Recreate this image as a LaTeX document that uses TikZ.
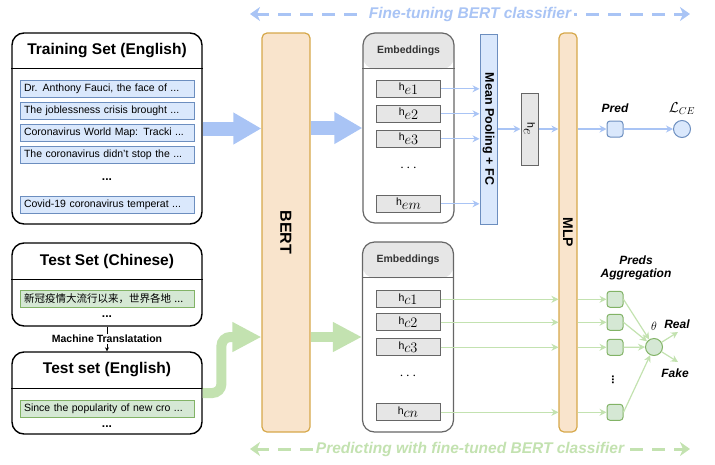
\documentclass[tikz,border=0pt]{standalone}
\usepackage{fontspec}
\setmainfont{Liberation Sans}
\newfontfamily\cjk{Noto Sans CJK SC}
\usepackage{graphicx}
\usetikzlibrary{arrows.meta,positioning,calc}
\definecolor{bluefill}{HTML}{DAE8FC}
\definecolor{blueline}{HTML}{6C8EBF}
\definecolor{greenfill}{HTML}{D5E8D4}
\definecolor{greenline}{HTML}{82B366}
\definecolor{grayfill}{HTML}{E6E6E6}
\definecolor{grayline}{HTML}{666666}
\definecolor{orangefill}{HTML}{F9E4CC}
\definecolor{orangeline}{HTML}{D6A84A}
\definecolor{bluearr}{HTML}{A9C4F5}
\definecolor{greenarr}{HTML}{C3E2B0}
\newcommand{\hvec}[1]{{\fontsize{10.5}{10}\selectfont$\mathrm{h}$}\raisebox{-3.5pt}{\fontsize{13.5}{12}\selectfont$#1$}}
\tikzset{
    % Define style for data set boxes
    setbox/.style={
           rectangle,
           rounded corners=12pt,
           draw=black, line width=1.4pt,
           fill=white,
           minimum width=190pt},
    settitle/.style={font=\fontsize{15.5}{18}\selectfont\bfseries,minimum height=36pt,inner sep=0pt},
    trainitem/.style={rectangle,draw=blueline,fill=bluefill,line width=1pt,text width=166pt,align=left,
           minimum height=17pt,inner xsep=4pt,inner ysep=0pt,font=\fontsize{10.5}{12}\selectfont},
    testitem/.style={trainitem,draw=greenline,fill=greenfill},
    dots/.style={inner sep=0pt,font=\fontsize{12}{12}\selectfont\bfseries},
    % Define style for layers
    layer/.style={rectangle,rounded corners=5pt,draw=orangeline,fill=orangefill,line width=1.2pt,
           minimum height=399pt,inner sep=0pt,font=\bfseries},
    embbox/.style={rectangle,rounded corners=12pt,draw=grayline,fill=white,line width=1.2pt,
           minimum width=91pt,minimum height=190pt,
           path picture={\fill[grayfill] (path picture bounding box.north west) rectangle ([yshift=-36pt]path picture bounding box.north east);}},
    embtitle/.style={font=\fontsize{10.5}{12}\selectfont\bfseries,text=black!80,minimum height=36pt,inner sep=0pt},
    hbox/.style={rectangle,draw=grayline,fill=grayfill,line width=1pt,minimum width=64pt,minimum height=17pt,inner sep=0pt},
    poolbox/.style={rectangle,draw=blueline,fill=bluefill,line width=1pt,minimum width=17pt,minimum height=190pt,inner sep=0pt},
    predbox/.style={rectangle,rounded corners=3pt,draw=blueline,fill=bluefill,line width=1pt,minimum size=16pt,inner sep=0pt},
    aggbox/.style={predbox,draw=greenline,fill=greenfill},
    losscircle/.style={circle,draw=blueline,fill=bluefill,line width=1pt,minimum size=17pt,inner sep=0pt},
    aggcircle/.style={losscircle,draw=greenline,fill=greenfill},
    predlabel/.style={inner sep=0pt,font=\fontsize{12}{13.5}\selectfont\bfseries\itshape},
    % Define arrow styles
    thinblue/.style={color=bluearr,line width=1.2pt,-{Stealth[length=7pt,width=7pt]}},
    thingreen/.style={thinblue,color=greenarr},
    bigblue/.style={color=bluearr,line width=14pt,-{Triangle[length=28pt,width=30pt]}},
    biggreen/.style={color=greenarr,line width=10pt,-{Triangle[length=29pt,width=28pt]}},
    dashblue/.style={color=bluearr,line width=3pt,dash pattern=on 13pt off 9pt,
           {Stealth[length=10pt,width=14pt,inset=3pt]}-{Stealth[length=10pt,width=14pt,inset=3pt]}},
    dashgreen/.style={dashblue,color=greenarr},
    dashlabel/.style={fill=white,inner sep=3pt,font=\fontsize{15.5}{18}\selectfont\bfseries\itshape}
}

\begin{document}
\begin{tikzpicture}[x=1pt,y=-1pt,node distance=4pt]
  \useasboundingbox (0,0) rectangle (715,464);

  % training set
  \node[setbox,minimum height=191pt] (train) at (107,128.5) {};
  \node[settitle,below=0pt of train.north] (trainT) {Training Set (English)};
  \draw[line width=1.4pt] (trainT.south -| train.west) -- (trainT.south -| train.east);
  \node[trainitem,below=11pt of trainT] (t1) {Dr. Anthony Fauci, the face of ...};
  \node[trainitem,below=of t1] (t2) {The joblessness crisis brought ...};
  \node[trainitem,below=of t2] (t3) {Coronavirus World Map: Tracki ...};
  \node[trainitem,below=of t3] (t4) {The coronavirus didn’t stop the ...};
  \node[trainitem,below=32pt of t4] (t5) {Covid-19 coronavirus temperat ...};
  \node[dots] (tdots) at ($(t4)!0.5!(t5)$) {...};

  % test sets
  \node[setbox,minimum height=83pt] (testzh) at (107,284.5) {};
  \node[settitle,below=0pt of testzh.north,minimum height=37pt] (zhT) {Test Set (Chinese)};
  \draw[line width=1.4pt] (zhT.south -| testzh.west) -- (zhT.south -| testzh.east);
  \node[testitem,below=10pt of zhT] (zh1) {\cjk 新冠疫情大流行以来，世界各地 ...};
  \node[dots,below=8pt of zh1] (zhdots) {...};

  \node[setbox,minimum height=82pt] (testen) at (107,393) {};
  \node[settitle,below=0pt of testen.north,minimum height=37pt] (enT) {Test set (English)};
  \draw[line width=1.4pt] (enT.south -| testen.west) -- (enT.south -| testen.east);
  \node[testitem,below=11pt of enT] (en1) {Since the popularity of new cro ...};
  \node[dots,below=8pt of en1] (endots) {...};

  \draw[line width=0.8pt,-{Stealth[length=4pt,width=4pt]}] (testzh) -- node[fill=white,inner sep=1pt,font=\fontsize{10.5}{12}\selectfont\bfseries] {Machine Translatation} (testen);

  % BERT and MLP
  \node[layer,minimum width=48pt] (bert) at (286,232.5) {\rotatebox{-90}{\fontsize{16}{16}\selectfont BERT}};
  \node[layer,minimum width=18pt] (mlp) at (568,232.5) {\rotatebox{-90}{\fontsize{14}{14}\selectfont MLP}};

  % embeddings (training)
  \node[embbox] (emb1) at (408.5,128) {};
  \node[embtitle,below=0pt of emb1.north] (embT1) {Embeddings};
  \draw[grayline,line width=1.2pt] (embT1.south -| emb1.west) -- (embT1.south -| emb1.east);
  \node[hbox,below=11pt of embT1] (e1) {\hvec{e1}};
  \node[hbox,below=7pt of e1] (e2) {\hvec{e2}};
  \node[hbox,below=7pt of e2] (e3) {\hvec{e3}};
  \node[hbox,below=47pt of e3] (em) {\hvec{em}};
  \node[inner sep=0pt,font=\fontsize{14}{14}\selectfont] (edots) at ($(e3)!0.45!(em)$) {$\cdots$};

  % embeddings (test)
  \node[embbox] (emb2) at (408,337) {};
  \node[embtitle,below=0pt of emb2.north] (embT2) {Embeddings};
  \draw[grayline,line width=1.2pt] (embT2.south -| emb2.west) -- (embT2.south -| emb2.east);
  \node[hbox,below=12.5pt of embT2] (c1) {\hvec{c1}};
  \node[hbox,below=5pt of c1] (c2) {\hvec{c2}};
  \node[hbox,below=7pt of c2] (c3) {\hvec{c3}};
  \node[hbox,below=47pt of c3] (cn) {\hvec{cn}};
  \node[inner sep=0pt,font=\fontsize{14}{14}\selectfont] (cdots) at ($(c3)!0.45!(cn)$) {$\cdots$};

  % pooling and prediction
  \node[poolbox] (pool) at (488.5,129) {\rotatebox{-90}{\bfseries\fontsize{12.5}{14}\selectfont Mean Pooling + FC}};
  \node[hbox,minimum width=17pt,minimum height=72pt] (he) at (529.5,129) {\rotatebox{-90}{\hvec{e}}};
  \node[predbox] (pred) at (615,129) {};
  \node[predlabel,above=8pt of pred] (predL) {Pred};
  \node[losscircle] (loss) at (682,129) {};
  \node[above=5pt of loss,inner sep=0pt,font=\fontsize{14}{14}\selectfont] (lossL) {$\mathcal{L}_{CE}$};

  % aggregation
  \node[aggbox] (g1) at (pred |- c1) {};
  \node[aggbox] (g2) at (pred |- c2) {};
  \node[aggbox] (g3) at (pred |- c3) {};
  \node[aggbox] (gn) at (pred |- cn) {};
  \node[inner sep=0pt] (gdots) at ([xshift=-2pt]$(g3)!0.5!(gn)$) {\rotatebox{90}{\fontsize{12}{12}\selectfont\bfseries ...}};
  \node[predlabel,align=center] (aggL) at (636,268) {Preds\\Aggregation};
  \node[aggcircle] (agg) at (654,347) {};
  \node[above=7pt of agg,inner sep=0pt,font=\fontsize{13}{13}\selectfont] (theta) {$\theta$};
  \coordinate (real) at (678,332);
  \coordinate (fake) at (678,362);
  \node[predlabel] (realL) at (677,324) {Real};
  \node[predlabel] (fakeL) at (675,373) {Fake};

  % big arrows
  \draw[bigblue] (train.east) -- (train.east -| bert.west);
  \draw[bigblue] (bert.east |- emb1) -- (emb1.west);
  \draw[biggreen,rounded corners=9pt] (testen.east) -| ([xshift=-40pt]bert.west |- emb2) -- (bert.west |- emb2);
  \draw[biggreen] (bert.east |- emb2) -- (emb2.west);

  % thin arrows
  \path[thinblue]
    (e1.east) edge (e1.east -| pool.west)
    (e2.east) edge (e2.east -| pool.west)
    (e3.east) edge (e3.east -| pool.west)
    (em.east) edge (em.east -| pool.west)
    (pool.east |- he) edge (he.west)
    (he.east) edge (he.east -| mlp.west)
    (mlp.east |- pred) edge (pred.west)
    (pred) edge (loss);
  \path[thingreen]
    (c1.east) edge (c1.east -| mlp.west)
    (c2.east) edge (c2.east -| mlp.west)
    (c3.east) edge (c3.east -| mlp.west)
    (cn.east) edge (cn.east -| mlp.west)
    (mlp.east |- g1) edge (g1.west)
    (mlp.east |- g2) edge (g2.west)
    (mlp.east |- g3) edge (g3.west)
    (mlp.east |- gn) edge (gn.west)
    (g1.east) edge (agg)
    (g2.east) edge (agg)
    (g3.east) edge (agg)
    (gn.east) edge (agg)
    (agg) edge (real)
    (agg) edge (fake);

  % dashed arrows
  \coordinate (ftL) at (250,14);
  \coordinate (ftR) at (690,14);
  \coordinate (pdL) at (250,449);
  \coordinate (pdR) at (690,449);
  \draw[dashblue] (ftL) -- node[dashlabel,text=bluearr] {Fine-tuning BERT classifier} (ftR);
  \draw[dashgreen] (pdL) -- node[dashlabel,text=greenarr] {Predicting with fine-tuned BERT classifier} (pdR);
\end{tikzpicture}
\end{document}
